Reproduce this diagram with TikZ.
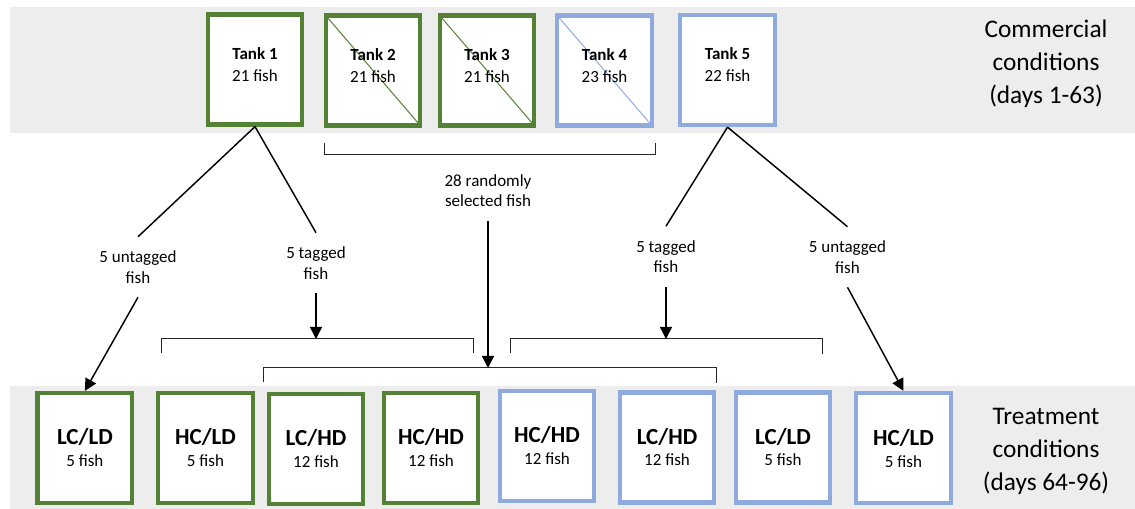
\documentclass[tikz,border=0pt]{standalone}
\usepackage{fontspec}
\setmainfont{Carlito}
\usetikzlibrary{arrows.meta,calc}
\definecolor{tgreen}{HTML}{548235}
\definecolor{tblue}{HTML}{8FAADC}
\definecolor{band}{HTML}{EDEDED}
\begin{document}
\begin{tikzpicture}[x=0.75pt,y=-0.75pt,
  tankbox/.style={draw, line width=3.2pt, fill=white, minimum width=71pt, minimum height=82.5pt, inner sep=0pt},
  grn/.style={tankbox, draw=tgreen},
  blu/.style={tankbox, draw=tblue},
  tanklbl/.style={align=center, inner sep=0pt, font=\fontsize{12.75}{16.5}\selectfont},
  trtlbl/.style={align=center, inner sep=0pt, font=\fontsize{12.75}{15.9}\selectfont},
  flowlbl/.style={align=center, inner sep=0pt, minimum height=45pt, font=\fontsize{12.75}{15.3}\selectfont},
  sidelbl/.style={align=center, inner sep=0pt, font=\fontsize{19}{24.75}\selectfont},
  link/.style={line width=1.1pt},
  arr/.style={line width=1.1pt, -{Triangle[length=9pt,width=9pt]}},
  brk/.style={line width=0.75pt, draw=black!85},
  diag/.style={line width=0.75pt}
]
\useasboundingbox (0,0) rectangle (1135,509);
\fill[band] (10,6.7) rectangle (1135,132.7);
\fill[band] (10,386) rectangle (1135,509);

% top tanks
\node[grn] (t1) at (255,69.5) {};
\node[grn] (t2) at (373,70.5) {};
\node[grn] (t3) at (487,70.5) {};
\node[blu] (t4) at (604.5,70.5) {};
\node[blu] (t5) at (727.5,70) {};
\draw[diag,tgreen] ([xshift=1.6pt,yshift=-1.6pt]t2.north west) -- ([xshift=-1.6pt,yshift=1.6pt]t2.south east);
\draw[diag,tgreen] ([xshift=1.6pt,yshift=-1.6pt]t3.north west) -- ([xshift=-1.6pt,yshift=1.6pt]t3.south east);
\draw[diag,tblue] ([xshift=1.6pt,yshift=-1.6pt]t4.north west) -- ([xshift=-1.6pt,yshift=1.6pt]t4.south east);
\node[tanklbl] (t1l) at (255,64.5) {\textbf{Tank 1}\\21 fish};
\node[tanklbl] (t2l) at (373,65.5) {\textbf{Tank 2}\\21 fish};
\node[tanklbl] (t3l) at (487,65.5) {\textbf{Tank 3}\\21 fish};
\node[tanklbl] (t4l) at (604.5,65.5) {\textbf{Tank 4}\\23 fish};
\node[tanklbl] (t5l) at (727.5,65) {\textbf{Tank 5}\\22 fish};

% bottom boxes
\node[grn] (b1) at (84.9,448) {};
\node[grn] (b2) at (205.5,448) {};
\node[grn] (b3) at (316,449) {};
\node[grn] (b4) at (431,448) {};
\node[blu] (b5) at (547,446) {};
\node[blu] (b6) at (667,447.5) {};
\node[blu] (b7) at (783,447.5) {};
\node[blu] (b8) at (903.5,448) {};
\newcommand{\bl}[2]{{\fontsize{17.25}{15.9}\selectfont\bfseries #1}\\#2}
\node[trtlbl] (b1l) at (84.9,447.5) {\bl{LC/LD}{5 fish}};
\node[trtlbl] (b2l) at (205.5,447.5) {\bl{HC/LD}{5 fish}};
\node[trtlbl] (b3l) at (316,448.5) {\bl{LC/HD}{12 fish}};
\node[trtlbl] (b4l) at (431,447.5) {\bl{HC/HD}{12 fish}};
\node[trtlbl] (b5l) at (547,445.5) {\bl{HC/HD}{12 fish}};
\node[trtlbl] (b6l) at (667,447) {\bl{LC/HD}{12 fish}};
\node[trtlbl] (b7l) at (783,447) {\bl{LC/LD}{5 fish}};
\node[trtlbl] (b8l) at (903.5,448.5) {\bl{HC/LD}{5 fish}};

% side labels
\node[sidelbl] (com) at (1046,64) {Commercial\\conditions\\(days 1-63)};
\node[sidelbl] (trt) at (1046,451) {Treatment\\conditions\\(days 64-96)};

% flow labels
\node[flowlbl] (ul1) at (138,267) {5 untagged\\fish};
\node[flowlbl] (tl1) at (316,263) {5 tagged\\fish};
\node[flowlbl] (rnd) at (488,190.5) {28 randomly\\selected fish};
\node[flowlbl] (tl2) at (666,256.5) {5 tagged\\fish};
\node[flowlbl] (ul2) at (847.5,257) {5 untagged\\fish};

% brackets
\draw[brk] (324,143) -- (324,155) -- (655,155) -- (655,143);
\draw[brk] (161,353) -- (161,339) -- (473,339) -- (473,353);
\draw[brk] (263,382) -- (263,368) -- (716,368) -- (716,383);
\draw[brk] (510,353) -- (510,339) -- (822,339) -- (822,354);
\coordinate (br1) at (316,339);
\coordinate (br2) at (488,368);
\coordinate (br3) at (666,339);

% connectors
\draw[link] (t1.south) -- (ul1.north);
\draw[link] (t1.south) -- (tl1.north);
\draw[link] (t5.south) -- (tl2.north);
\draw[link] (t5.south) -- (ul2.north);
\draw[arr] (ul1.south) -- (b1.north);
\draw[arr] (tl1.south) -- (br1);
\draw[arr] (rnd.south) -- (br2);
\draw[arr] (tl2.south) -- (br3);
\draw[arr] (ul2.south) -- (b8.north);
\end{tikzpicture}
\end{document}
